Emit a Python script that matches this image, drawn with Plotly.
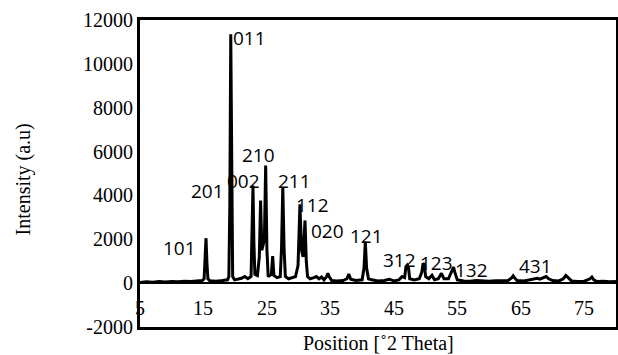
import plotly.graph_objects as go

# ---- data ----
two_theta = [
    5.0, 6.0, 7.0, 8.0, 9.0, 10.0, 11.0, 12.0, 13.0, 14.0, 14.8,
    15.1, 15.25, 15.4, 15.55, 15.7, 16.0, 17.0, 18.0, 18.8,
    19.0, 19.15, 19.3, 19.45, 19.6, 19.9, 20.5, 21.0, 21.5, 22.0,
    22.5, 22.65, 22.8, 22.95, 23.1, 23.5, 23.8, 24.0, 24.2, 24.45, 24.6, 24.8, 25.0, 25.2,
    25.7, 25.9, 26.1, 26.6, 27.1, 27.3, 27.5, 27.7, 27.9,
    28.4, 29.0, 29.5, 29.9, 30.2, 30.45, 30.7, 31.0, 31.2, 31.4,
    31.8, 32.4, 32.8, 33.2, 33.6, 34.0, 34.4, 34.6, 34.8, 35.2,
    36.0, 37.0, 37.6, 37.9, 38.2, 39.0, 40.0, 40.3, 40.5, 40.7, 41.0,
    41.5, 42.5, 43.5, 44.3, 45.0, 45.8, 46.3, 46.7, 46.9, 47.1, 47.3, 47.5,
    48.2, 49.0, 49.4, 49.6, 49.8, 50.0, 50.5, 51.0, 51.4, 52.0, 52.5, 52.9,
    53.6, 54.2, 54.4, 54.6, 55.0,
    56.0, 57.0, 58.0, 59.0, 60.0, 61.0, 62.0, 63.0, 63.6, 63.8, 64.0, 64.4,
    65.5, 66.5, 67.3, 67.6, 68.0, 68.5, 69.0, 69.4, 70.0, 71.0, 71.7, 72.1, 72.5,
    73.0, 74.0, 75.0, 75.9, 76.2, 76.5, 77.0, 78.0, 79.0, 80.0,
]
intensity = [
    30, 60, 40, 70, 50, 80, 60, 90, 70, 100, 120,
    200, 900, 2050, 900, 200, 110, 90, 120, 150,
    300, 3500, 11350, 3500, 300, 150, 180, 220, 300, 200,
    300, 1800, 4450, 1800, 400, 350, 1200, 3770, 1500, 1800, 2000, 5360, 1500, 300,
    400, 1230, 350, 250, 300, 1600, 4370, 1600, 300,
    200, 250, 300, 800, 3590, 1500, 1200, 2860, 1000, 300,
    200, 250, 300, 200, 280, 150, 300, 450, 300, 120,
    100, 120, 200, 420, 180, 120, 150, 700, 1900, 700, 200,
    150, 100, 120, 180, 100, 150, 300, 250, 750, 820, 700, 200,
    150, 200, 500, 900, 850, 300, 200, 360, 150, 200, 450, 200,
    200, 650, 730, 500, 150,
    100, 90, 120, 100, 90, 110, 100, 120, 250, 330, 250, 120,
    100, 150, 180, 220, 180, 250, 300, 200, 120, 100, 200, 350, 220,
    100, 80, 90, 200, 280, 150, 70, 90, 60, 80,
]

hkl_labels = ["011", "101", "201", "002", "210", "211", "112", "020",
              "121", "312", "123", "132", "431"]

x_ticks = [5, 15, 25, 35, 45, 55, 65, 75]
y_ticks = [-2000, 0, 2000, 4000, 6000, 8000, 10000, 12000]

# ---- label placement (annotation positions, in data units) ----
label_x = [22.3, 11.3, 15.7, 21.35, 23.7, 29.4, 32.2, 34.6, 40.7, 45.9, 51.7, 57.2, 67.3]
label_y = [11180, 1590, 4180, 4680, 5860, 4680, 3545, 2360, 2140, 1045, 910, 590, 770]

serif = "Liberation Serif"
sans = "Open Sans"

fig = go.Figure()
fig.add_trace(go.Scatter(
    x=two_theta, y=intensity, mode="lines",
    line=dict(color="black", width=3),
))

# hkl peak labels
for t, lx, ly in zip(hkl_labels, label_x, label_y):
    fig.add_annotation(x=lx, y=ly, text=t, showarrow=False,
                       xanchor="center", yanchor="middle",
                       font=dict(family=sans, size=19, color="black"))

# x tick labels sit just below the zero line (axis crosses at 0)
for v in x_ticks:
    fig.add_annotation(x=v, y=0.062, xref="x", yref="paper", text=str(v),
                       showarrow=False, xanchor="center", yanchor="middle",
                       font=dict(family=serif, size=20, color="black"))

# axis titles
fig.add_annotation(x=0.5, y=-0.052, xref="paper", yref="paper",
                   xanchor="center", yanchor="middle",
                   text="Position [˚2 Theta]", showarrow=False,
                   font=dict(family=serif, size=20, color="black"))
fig.add_annotation(x=-0.245, y=0.482, xref="paper", yref="paper",
                   xanchor="center", yanchor="middle",
                   text="Intensity (a.u)", showarrow=False, textangle=-90,
                   font=dict(family=serif, size=20, color="black"))

fig.update_layout(
    width=618, height=355,
    margin=dict(l=140, r=2, t=20, b=28, autoexpand=False),
    paper_bgcolor="white", plot_bgcolor="white",
    showlegend=False,
    xaxis=dict(
        range=[5, 80], tickvals=x_ticks, showticklabels=False,
        showgrid=False, ticks="", zeroline=False,
        showline=True, mirror=True, linecolor="black", linewidth=3,
    ),
    yaxis=dict(
        range=[-2000, 12000], tickvals=y_ticks,
        ticktext=[str(v) for v in y_ticks],
        showgrid=False,
        showline=True, mirror=True, linecolor="black", linewidth=3,
        zeroline=True, zerolinecolor="black", zerolinewidth=2,
        tickfont=dict(family=serif, size=20, color="black"),
    ),
)

fig.write_html(
    "out.html",
    config={"displayModeBar": False},
    post_script="document.body.style.margin='0';",
)
